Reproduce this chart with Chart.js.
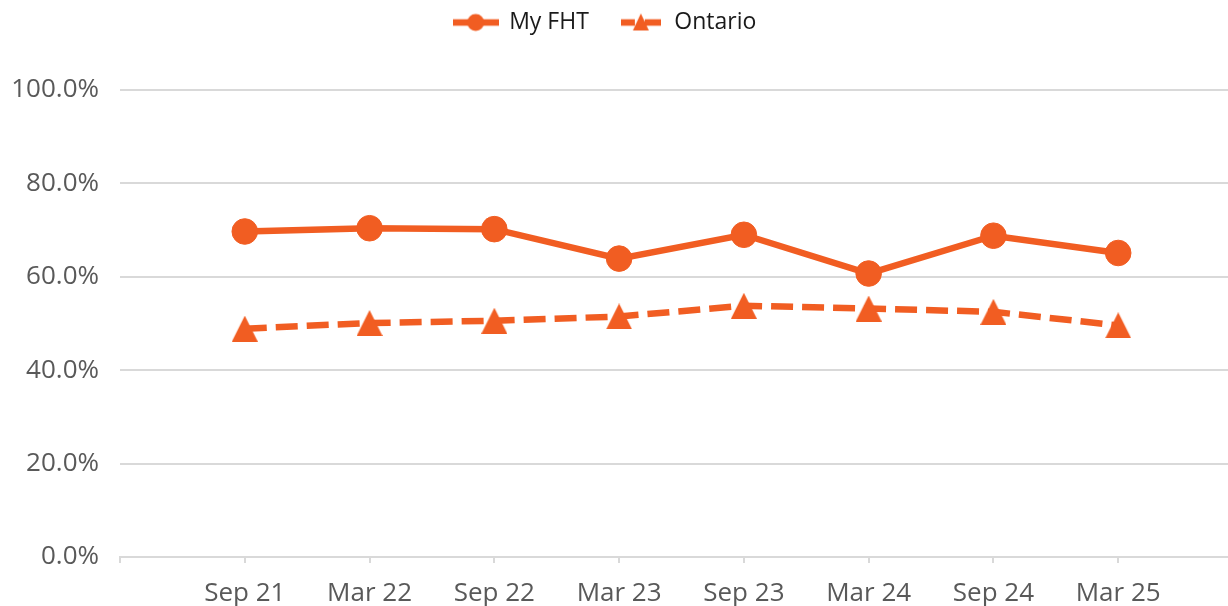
<!DOCTYPE html>
<html>
<head>
<meta charset="utf-8">
<script src="https://cdn.jsdelivr.net/npm/chart.js@4"></script>
<style>
  html, body { margin: 0; padding: 0; background: #fff; overflow: hidden; }
  #wrap { width: 1228px; height: 606px; }
  canvas { display: block; }
</style>
</head>
<body>
<div id="wrap"><canvas id="myChart"></canvas></div>
<script>
// data
var periods = ['Sep 21', 'Mar 22', 'Sep 22', 'Mar 23', 'Sep 23', 'Mar 24', 'Sep 24', 'Mar 25'];
var myFht = [69.7, 70.4, 70.2, 63.9, 69.0, 60.7, 68.8, 65.1];
var ontario = [48.9, 50.1, 50.6, 51.5, 53.8, 53.2, 52.5, 49.6];
var yTicks = [0, 20, 40, 60, 80, 100];

var orange = '#F15D22';
var font = "'Open Sans', 'Noto Sans', sans-serif";

// triangle marker, centred on its box
function triangleImg(w, h) {
  var c = document.createElement('canvas');
  c.width = w; c.height = h;
  var g = c.getContext('2d');
  g.fillStyle = orange;
  g.beginPath();
  g.moveTo(w / 2, 0);
  g.lineTo(w, h);
  g.lineTo(0, h);
  g.closePath();
  g.fill();
  return c;
}

// legend swatch: line + marker
function legendImg(dashed) {
  var w = dashed ? 40 : 46;
  var c = document.createElement('canvas');
  c.width = w; c.height = 24;
  var g = c.getContext('2d');
  g.strokeStyle = orange;
  g.fillStyle = orange;
  g.lineWidth = 6.5;
  g.beginPath();
  if (dashed) {
    g.moveTo(0, 12); g.lineTo(14, 12);
    g.moveTo(24, 12); g.lineTo(40, 12);
  } else {
    g.moveTo(0, 12); g.lineTo(46, 12);
  }
  g.stroke();
  g.beginPath();
  if (dashed) {
    g.moveTo(20, 3); g.lineTo(28, 20); g.lineTo(12, 20); g.closePath();
  } else {
    g.arc(23, 12, 8.5, 0, Math.PI * 2);
  }
  g.fill();
  return c;
}

// extra room under the legend, legend nudged a bit left
var legendGap = {
  id: 'legendGap',
  afterInit: function (chart) {
    var fit = chart.legend.fit;
    chart.legend.fit = function () {
      fit.call(this);
      this.height += 46;
      if (this.lineWidths && this.lineWidths.length) this.lineWidths[0] += 18;
    };
  },
};

var ctx = document.getElementById('myChart').getContext('2d');
var chart = new Chart(ctx, {
  type: 'line',
  data: {
    datasets: [
      {
        label: 'My FHT',
        data: myFht.map(function (v, i) { return { x: i + 1, y: v }; }),
        borderColor: orange,
        backgroundColor: orange,
        borderWidth: 6.5,
        pointRadius: 12.8,
        pointBorderWidth: 1,
        pointStyle: 'circle',
        legendImage: legendImg(false),
      },
      {
        label: 'Ontario',
        data: ontario.map(function (v, i) { return { x: i + 1, y: v }; }),
        borderColor: orange,
        backgroundColor: orange,
        borderWidth: 6.5,
        borderDash: [22, 9],
        pointRadius: 13,
        pointStyle: triangleImg(26, 26),
        legendImage: legendImg(true),
      },
    ],
  },
  plugins: [legendGap],
  options: {
    responsive: true,
    maintainAspectRatio: false,
    animation: false,
    layout: { autoPadding: false, padding: { top: -19, left: 0, right: 0, bottom: 0 } },
    plugins: {
      tooltip: { enabled: false },
      legend: {
        position: 'top',
        labels: {
          usePointStyle: true,
          pointStyleWidth: 44,
          boxHeight: 24,
          padding: 30,
          color: '#1a1a1a',
          font: { family: font, size: 23 },
          generateLabels: function (chart) {
            return chart.data.datasets.map(function (ds, i) {
              return {
                text: ds.label,
                pointStyle: ds.legendImage,
                fillStyle: orange,
                strokeStyle: orange,
                lineWidth: 0,
                hidden: false,
                datasetIndex: i,
                fontColor: '#1a1a1a',
              };
            });
          },
        },
      },
    },
    scales: {
      x: {
        type: 'linear',
        min: 0,
        max: 8.88,
        afterBuildTicks: function (scale) {
          scale.ticks = [0, 1, 2, 3, 4, 5, 6, 7, 8].map(function (v) { return { value: v }; });
        },
        grid: {
          drawOnChartArea: false,
          drawTicks: true,
          tickLength: 6,
          color: '#d9d9d9',
          lineWidth: 2,
        },
        border: { display: true, color: '#d9d9d9', width: 2 },
        ticks: {
          autoSkip: false,
          maxRotation: 0,
          padding: 15,
          color: '#595959',
          font: { family: font, size: 26 },
          callback: function (v) { return periods[v - 1] || ''; },
        },
        afterFit: function (scale) {
          scale.height = 49;
          scale.paddingLeft = 0;
          scale.paddingRight = 0;
        },
      },
      y: {
        min: 0,
        max: 100,
        afterBuildTicks: function (scale) {
          scale.ticks = yTicks.map(function (v) { return { value: v }; });
        },
        grid: { color: '#d9d9d9', lineWidth: 2, drawTicks: false },
        border: { display: false },
        ticks: {
          padding: 21,
          color: '#595959',
          font: { family: font, size: 26 },
          callback: function (v) { return v.toFixed(1) + '%'; },
        },
        afterFit: function (scale) { scale.width = 120; },
      },
    },
  },
});
</script>
</body>
</html>
